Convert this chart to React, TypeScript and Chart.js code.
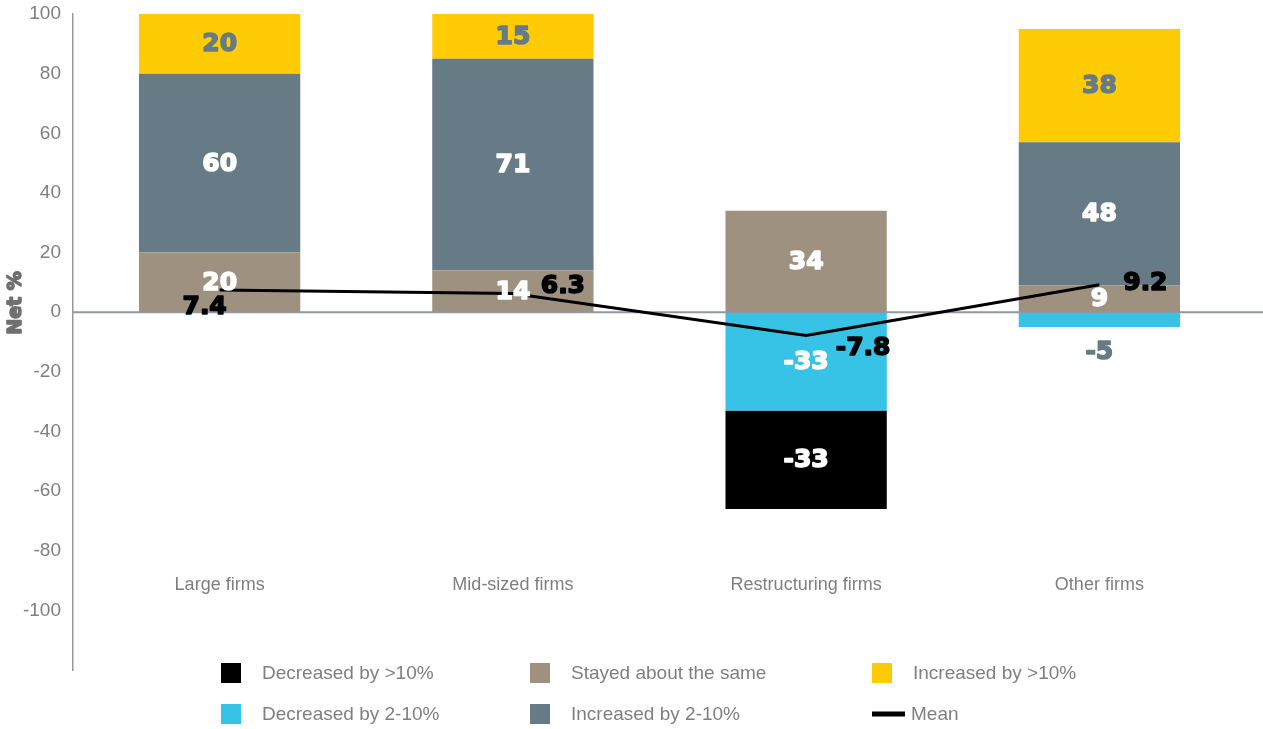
import React, { useEffect, useRef } from 'react';
import { Chart, registerables } from 'chart.js';

Chart.register(...registerables);

// ---------- data ----------
const categories = ['Large firms', 'Mid-sized firms', 'Restructuring firms', 'Other firms'];
const decreasedOver10 = [null, null, -33, null];
const decreased2to10 = [null, null, -33, -5];
const stayedSame = [20, 14, 34, 9];
const increased2to10 = [60, 71, null, 48];
const increasedOver10 = [20, 15, null, 38];
const meanValues = [7.4, 6.3, -7.8, 9.2];
const yMin = -120;
const yMax = 100;
const yStep = 20;
const axisTitle = 'Net %';

// ---------- style ----------
const COLORS = {
  decOver10: '#000000',
  dec2to10: '#36c3e6',
  stayed: '#9e9180',
  inc2to10: '#677b86',
  incOver10: '#ffcb05',
  mean: '#000000',
};
const HEAVY = '"DejaVu Sans", sans-serif';
const LIGHT = '"Liberation Sans", Arial, sans-serif';
const GREY = '#7f7f7f';
// label offsets (px) of the mean labels relative to their points
const meanLabelOffsets = [[-15, 17], [50, -7], [57, 13], [46, -1]];

function heavyText(ctx: any, text: string, x: number, y: number, color: string) {
  ctx.fillStyle = color;
  ctx.strokeStyle = color;
  ctx.lineWidth = 1.6;
  ctx.lineJoin = 'round';
  ctx.strokeText(text, x, y);
  ctx.fillText(text, x, y);
}

const overlayPlugin = {
  id: 'overlay',
  beforeDatasetDraw(chart: any, args: any) {
    if (args.meta.type !== 'line') return;
    const ctx = chart.ctx;
    const y = chart.scales.y.getPixelForValue(0);
    ctx.save();
    ctx.strokeStyle = '#8e99a2';
    ctx.lineWidth = 2;
    ctx.beginPath();
    ctx.moveTo(chart.chartArea.left, y);
    ctx.lineTo(chart.width, y);
    ctx.stroke();
    ctx.restore();
  },
  afterDatasetsDraw(chart: any) {
    const ctx = chart.ctx;
    const xs = chart.scales.x;
    const ys = chart.scales.y;
    ctx.save();
    // bar value labels
    ctx.font = `bold 25px ${HEAVY}`;
    ctx.textAlign = 'center';
    ctx.textBaseline = 'middle';
    chart.data.datasets.forEach((ds: any, di: number) => {
      if (ds.type === 'line') return;
      const meta = chart.getDatasetMeta(di);
      meta.data.forEach((el: any, i: number) => {
        const v = ds.data[i];
        if (v === null || v === undefined) return;
        const top = Math.min(el.y, el.base);
        const bottom = Math.max(el.y, el.base);
        const h = bottom - top;
        let cy = (top + bottom) / 2;
        let color = ds.backgroundColor === COLORS.incOver10 ? COLORS.inc2to10 : '#ffffff';
        if (h < 22) {
          cy = v < 0 ? bottom + 24 : top - 24;
          color = COLORS.inc2to10;
        }
        heavyText(ctx, String(v), el.x, cy + 1, color);
      });
    });
    // mean labels
    const lineIndex = chart.data.datasets.findIndex((d: any) => d.type === 'line');
    const lmeta = chart.getDatasetMeta(lineIndex);
    lmeta.data.forEach((pt: any, i: number) => {
      const off = meanLabelOffsets[i] || [0, 0];
      heavyText(ctx, String(meanValues[i]), pt.x + off[0], pt.y + off[1], '#000000');
    });
    // category labels (inside plot area)
    ctx.font = `18px ${LIGHT}`;
    ctx.fillStyle = GREY;
    categories.forEach((c, i) => {
      ctx.fillText(c, xs.getPixelForValue(i), ys.getPixelForValue(-91.5));
    });
    // axis title
    ctx.save();
    ctx.translate(16, 303);
    ctx.rotate(-Math.PI / 2);
    ctx.font = `bold 19px ${HEAVY}`;
    heavyText(ctx, axisTitle, 0, 0, '#707070');
    ctx.restore();
    // legend (3 columns x 2 rows, column-major)
    const legendOrder = [0, 1, 2, 3, 4, 5];
    const colX = [221, 530, 872];
    const rowY = [673, 714];
    ctx.font = `19px ${LIGHT}`;
    ctx.textAlign = 'left';
    legendOrder.forEach((di, k) => {
      const ds = chart.data.datasets[di];
      const x = colX[Math.floor(k / 2)];
      const y = rowY[k % 2];
      if (ds.type === 'line') {
        ctx.fillStyle = ds.borderColor;
        ctx.fillRect(x, y - 2.5, 33, 5);
        ctx.fillStyle = GREY;
        ctx.fillText(ds.label, x + 39, y + 1);
      } else {
        ctx.fillStyle = ds.backgroundColor;
        ctx.fillRect(x, y - 10, 20, 20);
        ctx.fillStyle = GREY;
        ctx.fillText(ds.label, x + 41, y + 1);
      }
    });
    ctx.restore();
  },
};

export default function App() {
  const ref = useRef<HTMLCanvasElement | null>(null);
  useEffect(() => {
    if (!ref.current) return;
    const chart = new Chart(ref.current, {
      type: 'bar',
      data: {
        labels: categories,
        datasets: [
          { type: 'bar', label: 'Decreased by >10%', data: decreasedOver10, backgroundColor: COLORS.decOver10, order: 2 },
          { type: 'bar', label: 'Decreased by 2-10%', data: decreased2to10, backgroundColor: COLORS.dec2to10, order: 1 },
          { type: 'bar', label: 'Stayed about the same', data: stayedSame, backgroundColor: COLORS.stayed, order: 3 },
          { type: 'bar', label: 'Increased by 2-10%', data: increased2to10, backgroundColor: COLORS.inc2to10, order: 4 },
          { type: 'bar', label: 'Increased by >10%', data: increasedOver10, backgroundColor: COLORS.incOver10, order: 5 },
          {
            type: 'line', label: 'Mean', data: meanValues, borderColor: COLORS.mean, backgroundColor: COLORS.mean,
            borderWidth: 3, pointRadius: 0, tension: 0, order: 0,
          },
        ] as any,
      },
      options: {
        responsive: false,
        animation: false,
        layout: { padding: { left: 0, top: 14, right: 17, bottom: 59 } },
        datasets: { bar: { barPercentage: 0.55, categoryPercentage: 1 } } as any,
        plugins: { legend: { display: false }, tooltip: { enabled: false } },
        scales: {
          x: { display: false, stacked: true },
          y: {
            stacked: true,
            min: yMin,
            max: yMax,
            grid: { display: false, drawTicks: false },
            border: { display: true, color: '#8e99a2', width: 1.5 },
            ticks: {
              stepSize: yStep,
              padding: 12,
              color: GREY,
              font: { family: LIGHT, size: 19 },
              callback: (v: any) => (v === yMin ? '' : String(v)),
            },
            afterFit: (scale: any) => {
              scale.width = 73;
              scale.paddingTop = 0;
              scale.paddingBottom = 0;
            },
          },
        },
      },
      plugins: [overlayPlugin],
    } as any);
    return () => chart.destroy();
  }, []);
  return (
    <div style={{ position: 'absolute', left: 0, top: 0, width: 1263, height: 729, background: '#fff' }}>
      <canvas ref={ref} width={1263} height={729} />
    </div>
  );
}
